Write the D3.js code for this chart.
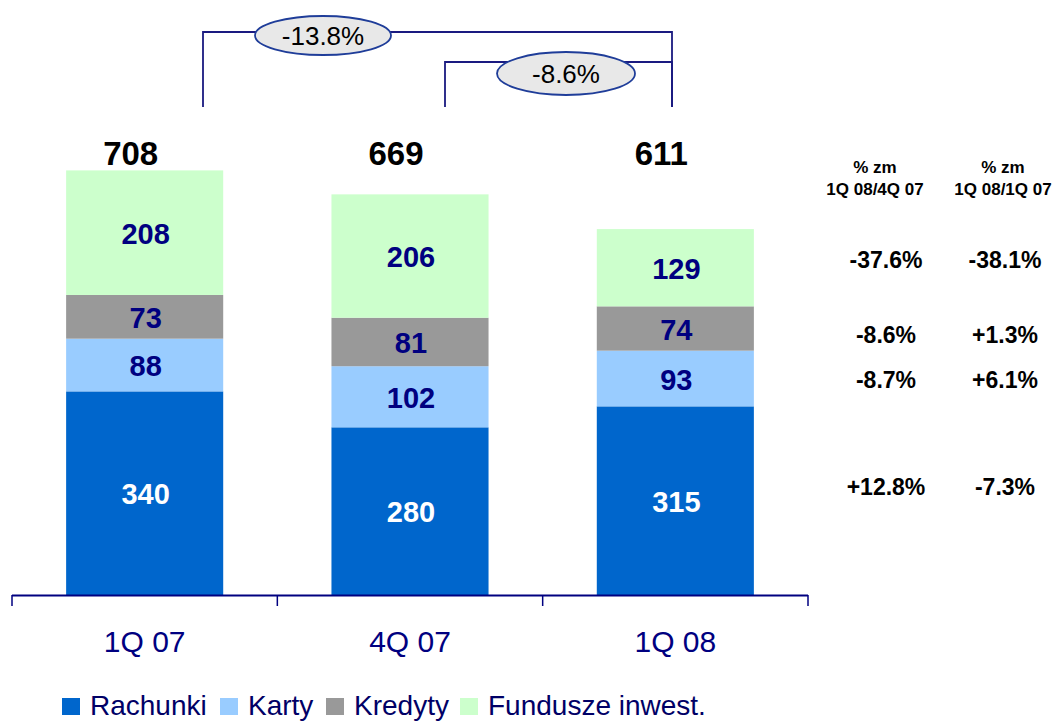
<!DOCTYPE html>
<html><head><meta charset="utf-8">
<script src="https://cdn.jsdelivr.net/npm/d3@7"></script>
<style>body{margin:0;background:#fff}svg{display:block}text{font-family:"Liberation Sans",Arial,sans-serif}</style>
</head><body><svg id="c" width="1058" height="723"></svg>
<script>
const categories = ["1Q 07", "4Q 07", "1Q 08"];
const seriesNames = ["Rachunki", "Karty", "Kredyty", "Fundusze inwest."];
const rachunki = [340, 280, 315];
const karty = [88, 102, 93];
const kredyty = [73, 81, 74];
const fundusze = [208, 206, 129];
const totals = [708, 669, 611];
const colors = ["#0066CC", "#99CCFF", "#999999", "#CCFFCC"];
const labelColors = ["#ffffff", "#000080", "#000080", "#000080"];
const brackets = [{from: 0, to: 2, label: "-13.8%"}, {from: 1, to: 2, label: "-8.6%"}];
const tableHeaders = [["% zm", "1Q 08/4Q 07"], ["% zm", "1Q 08/1Q 07"]];
const changeQoQ = ["-37.6%", "-8.6%", "-8.7%", "+12.8%"];
const changeYoY = ["-38.1%", "+1.3%", "+6.1%", "-7.3%"];

const svg = d3.select("#c");
const data = categories.map((c, i) => ({cat: c, Rachunki: rachunki[i], Karty: karty[i], Kredyty: kredyty[i], "Fundusze inwest.": fundusze[i]}));
const stack = d3.stack().keys(seriesNames)(data);

const x = d3.scaleBand().domain(categories).range([12, 808]).paddingInner(0.408).paddingOuter(0.204);
const xAxisScale = d3.scaleBand().domain(categories).range([12, 808]);
const y = d3.scaleLinear().domain([0, 708]).range([595, 171]);

// bars
stack.forEach((s, si) => {
  svg.append("g").selectAll("rect").data(s).join("rect")
    .attr("x", d => x(d.data.cat)).attr("width", x.bandwidth())
    .attr("y", d => y(d[1])).attr("height", d => y(d[0]) - y(d[1]))
    .attr("fill", colors[si]);
  svg.append("g").selectAll("text").data(s).join("text")
    .attr("x", d => x(d.data.cat) + x.bandwidth() / 2 + 1)
    .attr("y", d => (y(d[0]) + y(d[1])) / 2 + 11)
    .attr("text-anchor", "middle").attr("font-weight", "bold").attr("font-size", 29)
    .attr("fill", labelColors[si]).text(d => d[1] - d[0]);
});

// totals (all on one line above the bars)
svg.append("g").selectAll("text").data(categories).join("text")
  .attr("x", d => x(d) + x.bandwidth() / 2 - 14).attr("y", 165)
  .attr("text-anchor", "middle").attr("font-weight", "bold").attr("font-size", 33)
  .attr("fill", "#000").text((d, i) => totals[i]);

// axis
const axisColor = "#000080";
const ag = svg.append("g");
ag.append("line").attr("x1", 12).attr("x2", 808).attr("y1", 595.5).attr("y2", 595.5).attr("stroke", axisColor).attr("stroke-width", 2);
const tickXs = categories.map(c => xAxisScale(c)).concat([808]);
ag.selectAll("line.t").data(tickXs).join("line").attr("class", "t")
  .attr("x1", d => d).attr("x2", d => d).attr("y1", 595).attr("y2", 606)
  .attr("stroke", axisColor).attr("stroke-width", 1.5);
ag.selectAll("text").data(categories).join("text")
  .attr("x", d => xAxisScale(d) + xAxisScale.bandwidth() / 2).attr("y", 652)
  .attr("text-anchor", "middle").attr("font-size", 30).attr("fill", axisColor)
  .text(d => d);

// brackets
const bracketXs = [203, 445, 672];
const bracketTops = [32, 62];
const ellipses = [{cx: 323, cy: 35.5, rx: 68, ry: 19.5}, {cx: 566, cy: 73.5, rx: 69, ry: 21.5}];
brackets.forEach((b, i) => {
  const x1 = bracketXs[b.from], x2 = bracketXs[b.to], yt = bracketTops[i];
  svg.append("path").attr("d", `M${x1},107V${yt}H${x2}V107`).attr("fill", "none")
    .attr("stroke", "#1a1a80").attr("stroke-width", 1.8);
  const e = ellipses[i];
  svg.append("ellipse").attr("cx", e.cx).attr("cy", e.cy).attr("rx", e.rx).attr("ry", e.ry)
    .attr("fill", "#e8e8e8").attr("stroke", "#1f3d99").attr("stroke-width", 1.8);
  svg.append("text").attr("x", e.cx).attr("y", e.cy + 9).attr("text-anchor", "middle")
    .attr("font-size", 26).attr("fill", "#000").text(b.label);
});

// table
const colX = [875, 1003];
tableHeaders.forEach((h, i) => {
  svg.append("text").attr("x", colX[i]).attr("y", 173).attr("text-anchor", "middle")
    .attr("font-weight", "bold").attr("font-size", 17).text(h[0]);
  svg.append("text").attr("x", colX[i]).attr("y", 195).attr("text-anchor", "middle")
    .attr("font-weight", "bold").attr("font-size", 17).text(h[1]);
});
const rowY = [268, 343, 388, 495];
[changeQoQ, changeYoY].forEach((col, ci) => {
  svg.append("g").selectAll("text").data(col).join("text")
    .attr("x", colX[ci] + (ci === 0 ? 11 : 2)).attr("y", (d, i) => rowY[i])
    .attr("text-anchor", "middle").attr("font-weight", "bold").attr("font-size", 23)
    .attr("fill", "#000").text(d => d);
});

// legend
const lg = svg.append("g");
const legendX = [62, 220, 326, 460];
seriesNames.forEach((n, i) => {
  lg.append("rect").attr("x", legendX[i]).attr("y", 698).attr("width", 18).attr("height", 17).attr("fill", colors[i]);
  lg.append("text").attr("x", legendX[i] + 28).attr("y", 715).attr("font-size", 28).attr("fill", "#000066").text(n);
});
</script></body></html>
